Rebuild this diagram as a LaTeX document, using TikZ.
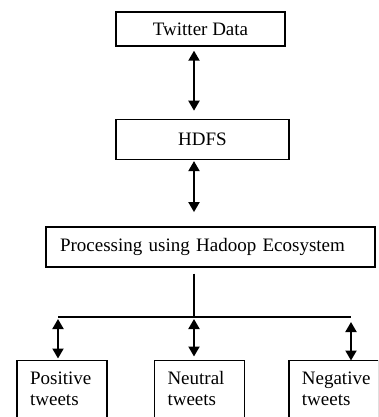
\documentclass[tikz,border=0pt]{standalone}
\usepackage{fontspec}
\setmainfont{Liberation Serif}
\usetikzlibrary{arrows.meta,positioning}
\begin{document}
\begin{tikzpicture}[x=1pt, y=-1pt,
    block/.style={rectangle, draw, line width=1.4pt, inner sep=0pt, minimum height=40pt, text centered, font=\fontsize{19}{21}\selectfont},
    leaf/.style={block, inner xsep=13pt, text width=64pt, minimum height=57pt, align=left},
    arrow/.style={{Triangle[length=10pt,width=11pt]}-{Triangle[length=10pt,width=11pt]}, line width=2pt},
    link/.style={line width=2pt}
  ]
  \useasboundingbox (0,0) rectangle (378,417);
  \clip (0,0) rectangle (378,417);

  \node (twitter) [block, minimum width=169pt, minimum height=34pt] at (200.5,29) {Twitter Data};
  \node (hdfs) [block, minimum width=173pt, below=72pt of twitter, xshift=2pt] {HDFS};
  \node (proc) [block, inner xsep=14pt, text width=301pt, align=left, below=66pt of hdfs, xshift=8pt] {Processing using Hadoop Ecosystem};
  \node (neutral) [leaf, below=92pt of proc, xshift=-11pt] {Neutral tweets};
  \node (positive) [leaf, left=46pt of neutral] {Positive tweets};
  \node (negative) [leaf, right=43pt of neutral] {Negative tweets};

  \coordinate (spine) at (194,0);
  \coordinate (split) at (194,317);
  \coordinate (lft) at (58,317);
  \coordinate (rgt) at (351,317);

  \draw[arrow, shorten <=4pt, shorten >=8pt] (twitter.south -| spine) -- (hdfs.north -| spine);
  \draw[arrow, shorten <=1pt, shorten >=14pt] (hdfs.south -| spine) -- (proc.north -| spine);
  \draw[link, shorten <=6pt] (proc.south -| spine) -- (split);
  \draw[link] (lft) -- (rgt);
  \draw[arrow, shorten <=2pt, shorten >=1pt] (lft) -- (positive.north -| lft);
  \draw[arrow, shorten <=2pt, shorten >=3pt] (split) -- (neutral.north -| split);
  \draw[arrow, shorten <=5pt, shorten >=-1pt] (rgt) -- (negative.north -| rgt);

\end{tikzpicture}
\end{document}
